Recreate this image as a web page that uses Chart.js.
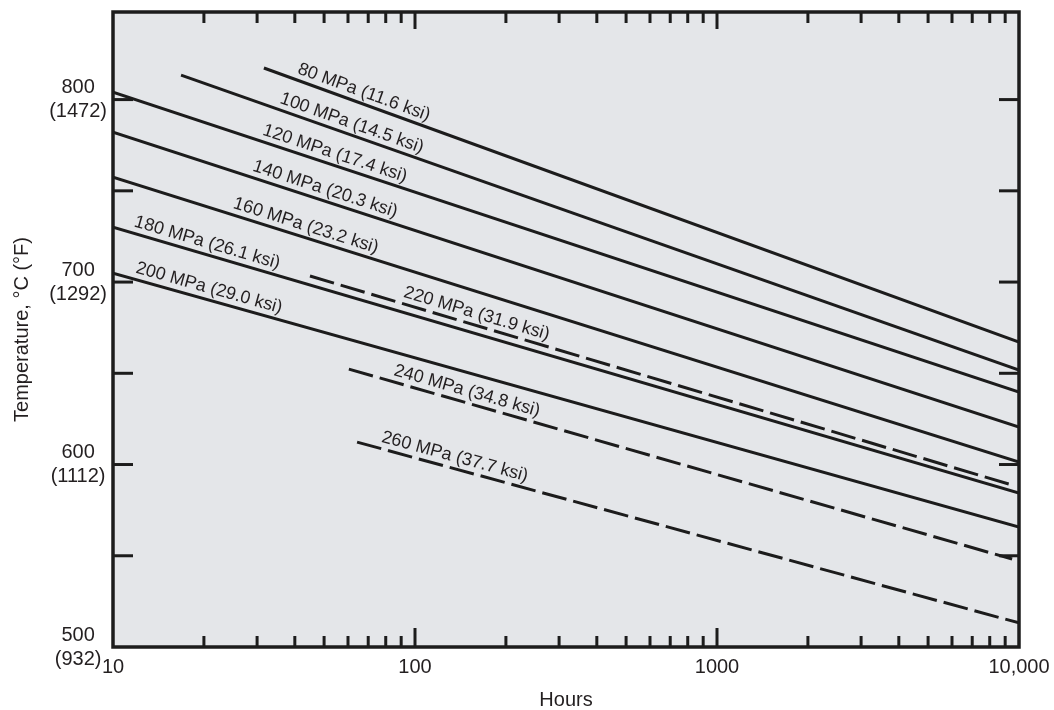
<!DOCTYPE html>
<html>
<head>
<meta charset="utf-8">
<title>Stress rupture</title>
<script src="https://cdn.jsdelivr.net/npm/chart.js@4.4.1/dist/chart.umd.min.js"></script>
<style>
  html, body { margin: 0; padding: 0; background: #fff; }
  #wrap { width: 1054px; height: 710px; }
</style>
</head>
<body>
<div id="wrap"><canvas id="rupture"></canvas></div>
<script>
// one line per stress level
const stressLabels = [
  "80 MPa (11.6 ksi)",
  "100 MPa (14.5 ksi)",
  "120 MPa (17.4 ksi)",
  "140 MPa (20.3 ksi)",
  "160 MPa (23.2 ksi)",
  "180 MPa (26.1 ksi)",
  "200 MPa (29.0 ksi)",
  "220 MPa (31.9 ksi)",
  "240 MPa (34.8 ksi)",
  "260 MPa (37.7 ksi)",
];
const startHours = [31.6, 16.8, 10, 10, 10, 10, 10, 44.9, 60.4, 64.3];
const startTemps = [817.3, 813.4, 804.1, 782.2, 757.5, 730.1, 704.9, 703.3, 652.3, 612.3];
const endHours = [10000, 10000, 10000, 10000, 10000, 10000, 10000, 9490, 9490, 10000];
const endTemps = [667.1, 651.8, 639.7, 620.5, 601.4, 584.4, 565.8, 588.8, 548.2, 513.2];
const extrapolated = [false, false, false, false, false, false, false, true, true, true];
// where along each line its label sits (hours)
const labelHours = [67.8, 61.8, 54.3, 50.4, 43.5, 20.5, 20.8, 160, 148.6, 135.5];

const xTickValues = [10, 100, 1000, 10000];
const xTickLabels = ["10", "100", "1000", "10,000"];
const xMajorMarks = [100, 1000];
const xMinorMarks = [20, 30, 40, 50, 60, 70, 80, 90, 200, 300, 400, 500, 600, 700, 800, 900,
  2000, 3000, 4000, 5000, 6000, 7000, 8000, 9000];

const yTickValues = [500, 600, 700, 800];
const yTickCelsius = ["500", "600", "700", "800"];
const yTickFahrenheit = ["(932)", "(1112)", "(1292)", "(1472)"];
const yMarks = [550, 600, 650, 700, 750, 800];

const ink = "#1c1c1c";
const textColor = "#231f20";
const plotBg = "#e4e6e9";
const fontFamily = "'Liberation Sans', Arial, Helvetica, sans-serif";

function logPos(h) {
  return Math.log10(h);
}

const framePlugin = {
  id: "frame",
  beforeDatasetsDraw(chart) {
    const { ctx, chartArea: a } = chart;
    ctx.save();
    ctx.fillStyle = plotBg;
    ctx.fillRect(a.left, a.top, a.right - a.left, a.bottom - a.top);
    ctx.restore();
  },
  afterDatasetsDraw(chart) {
    const { ctx, chartArea: a } = chart;
    const x = chart.scales.x;
    const y = chart.scales.y;

    ctx.save();
    ctx.strokeStyle = ink;
    ctx.lineWidth = 3;
    ctx.lineCap = "butt";

    function seg(x1, y1, x2, y2) {
      ctx.beginPath();
      ctx.moveTo(x1, y1);
      ctx.lineTo(x2, y2);
      ctx.stroke();
    }

    for (const v of yMarks) {
      const py = y.getPixelForValue(v);
      seg(a.left, py, a.left + 20, py);
      seg(a.right - 20, py, a.right, py);
    }
    for (const v of xMinorMarks) {
      const px = x.getPixelForValue(v);
      seg(px, a.bottom, px, a.bottom - 11);
      seg(px, a.top, px, a.top + 11);
    }
    for (const v of xMajorMarks) {
      const px = x.getPixelForValue(v);
      seg(px, a.bottom, px, a.bottom - 19);
      seg(px, a.top, px, a.top + 17);
    }

    ctx.lineWidth = 3.5;
    ctx.strokeRect(a.left, a.top, a.right - a.left, a.bottom - a.top);

    // labels along the lines
    ctx.fillStyle = textColor;
    ctx.font = "18px " + fontFamily;
    ctx.textAlign = "center";
    ctx.textBaseline = "middle";
    stressLabels.forEach((label, i) => {
      const x0 = x.getPixelForValue(startHours[i]);
      const y0 = y.getPixelForValue(startTemps[i]);
      const x1 = x.getPixelForValue(endHours[i]);
      const y1 = y.getPixelForValue(endTemps[i]);
      const t = (logPos(labelHours[i]) - logPos(startHours[i])) /
        (logPos(endHours[i]) - logPos(startHours[i]));
      const temp = startTemps[i] + t * (endTemps[i] - startTemps[i]);
      const px = x.getPixelForValue(labelHours[i]);
      const py = y.getPixelForValue(temp) - 12;
      const angle = Math.atan2(y1 - y0, x1 - x0);
      ctx.save();
      ctx.translate(px, py);
      ctx.rotate(angle);
      ctx.fillText(label, 0, 0);
      ctx.restore();
    });

    ctx.restore();
  },
};

const datasets = stressLabels.map((label, i) => ({
  label,
  data: [
    { x: startHours[i], y: startTemps[i] },
    { x: endHours[i], y: endTemps[i] },
  ],
  showLine: true,
  borderColor: ink,
  borderWidth: 3,
  borderDash: extrapolated[i] ? [25, 7] : [],
  pointRadius: 0,
  fill: false,
}));

const tickFont = { family: fontFamily, size: 20, lineHeight: 1.2 };

new Chart(document.getElementById("rupture"), {
  type: "scatter",
  data: { datasets },
  plugins: [framePlugin],
  options: {
    responsive: true,
    maintainAspectRatio: false,
    animation: false,
    events: [],
    layout: { padding: { top: 12, right: 35, left: 0, bottom: 0 } },
    plugins: {
      legend: { display: false },
      tooltip: { enabled: false },
    },
    scales: {
      x: {
        type: "logarithmic",
        min: 10,
        max: 10000,
        afterBuildTicks: (scale) => {
          scale.ticks = xTickValues.map((v) => ({ value: v }));
        },
        afterFit: (scale) => {
          scale.height = 63;
          scale.paddingLeft = 0;
          scale.paddingRight = 0;
        },
        grid: { display: false, drawTicks: false },
        border: { display: false },
        ticks: {
          autoSkip: false,
          maxRotation: 0,
          padding: 8,
          color: textColor,
          font: tickFont,
          callback: (value) => {
            const i = xTickValues.indexOf(value);
            return i >= 0 ? xTickLabels[i] : "";
          },
        },
        title: {
          display: true,
          text: "Hours",
          color: textColor,
          padding: { top: 0, bottom: 0 },
          font: { family: fontFamily, size: 20, lineHeight: 1 },
        },
      },
      y: {
        type: "linear",
        min: 500,
        max: 848,
        afterBuildTicks: (scale) => {
          scale.ticks = yTickValues.map((v) => ({ value: v }));
        },
        afterFit: (scale) => {
          scale.width = 113;
          scale.paddingTop = 0;
          scale.paddingBottom = 0;
        },
        grid: { display: false, drawTicks: false },
        border: { display: false },
        ticks: {
          autoSkip: false,
          padding: 6,
          crossAlign: "center",
          color: textColor,
          font: tickFont,
          callback: (value) => {
            const i = yTickValues.indexOf(value);
            return i >= 0 ? [yTickCelsius[i], yTickFahrenheit[i]] : "";
          },
        },
        title: {
          display: true,
          text: "Temperature, °C (°F)",
          color: textColor,
          padding: { top: 10, bottom: 0 },
          font: { family: fontFamily, size: 20, lineHeight: 1.2 },
        },
      },
    },
  },
});
</script>
</body>
</html>
